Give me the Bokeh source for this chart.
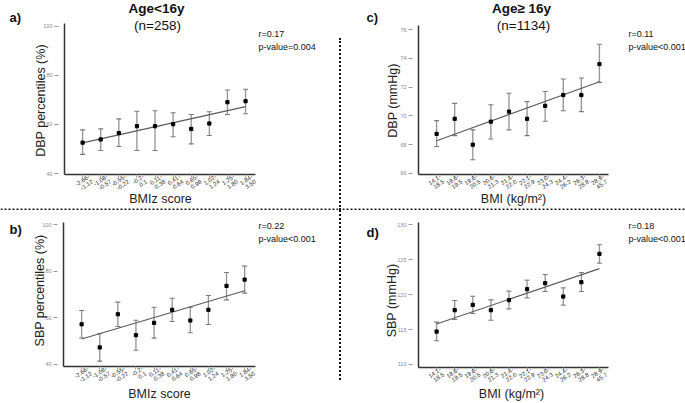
import math
from bokeh.plotting import figure
from bokeh.models import (ColumnDataSource, Whisker, TeeHead, FixedTicker, Label, Div, Span, Range1d,
                          LinearAxis)
from bokeh.layouts import row, column
from bokeh.embed import file_html
from bokeh.resources import INLINE

# ---------------- data ----------------
groups = [1, 2, 3, 4, 5, 6, 7, 8, 9, 10]
bmiz_labels = ["-2.66-\n-1.12", "-1.08-\n-0.57", "-0.55-\n-0.22", "-0.2-\n0.1", "0.11-\n0.38",
               "0.41-\n0.64", "0.65-\n0.98", "1.02-\n1.24", "1.25-\n1.80", "1.84-\n3.50"]
bmi_labels = ["14.1-\n18.5", "18.6-\n19.5", "19.6-\n20.5", "20.6-\n21.3", "21.4-\n22.0",
              "22.1-\n22.9", "23.0-\n24.3", "24.4-\n26.2", "26.3-\n28.8", "28.9-\n45.7"]

a_mean = [52.6, 53.9, 56.5, 59.3, 59.3, 60.1, 58.2, 60.4, 69.1, 69.5]
a_lo = [47.8, 49.4, 51.0, 49.4, 49.4, 55.0, 52.1, 55.5, 64.1, 64.4]
a_hi = [57.8, 58.2, 62.3, 65.4, 65.6, 64.8, 64.1, 65.2, 74.1, 74.4]
a_reg = [52.5, 67.3]

b_mean = [57.2, 47.2, 61.5, 52.5, 57.8, 63.4, 58.8, 63.4, 73.7, 76.4]
b_lo = [51.3, 41.3, 56.2, 46.0, 51.2, 58.4, 53.5, 57.1, 67.7, 70.6]
b_hi = [63.1, 53.1, 66.7, 58.9, 64.5, 68.4, 64.5, 69.6, 79.5, 82.2]
b_reg = [50.8, 71.6]

c_mean = [68.75, 69.8, 68.0, 69.6, 70.3, 69.8, 70.7, 71.45, 71.45, 73.6]
c_lo = [67.87, 68.63, 66.95, 68.4, 69.03, 68.63, 69.63, 70.36, 70.3, 72.33]
c_hi = [69.67, 70.87, 69.03, 70.78, 71.57, 70.99, 71.7, 72.56, 72.63, 74.98]
c_reg = [68.28, 72.37]

d_mean = [114.7, 117.76, 118.52, 117.76, 119.19, 120.76, 121.62, 119.71, 121.76, 125.81]
d_lo = [113.4, 116.43, 117.29, 116.33, 117.95, 119.52, 120.43, 118.48, 120.43, 124.48]
d_hi = [116.05, 119.14, 119.76, 119.24, 120.48, 122.05, 122.86, 120.95, 123.14, 127.1]
d_reg = [115.8, 123.7]

pct_ticks = [40, 60, 80, 100]
c_ticks = [66, 68, 70, 72, 74, 76]
d_ticks = [110, 115, 120, 125, 130]

FONT = "Liberation Sans"


class Panel:
    """One quadrant. The frame fills the whole canvas; the axes sit at fixed locations."""

    def __init__(self, ox, oy, W, H, box, xdom, ydom, yticks, xlabels, label_shift,
                 mean, lo, hi, reg):
        self.ox, self.oy, self.W, self.H = ox, oy, W, H
        L, R, T, B = box            # where the axes' corner / ends lie in the picture
        x0, x1 = xdom
        y0, y1 = ydom
        kx = (x1 - x0) / (R - L)
        ky = (y1 - y0) / (B - T)
        xr = Range1d(x0 - (L - ox) * kx, x1 + (ox + W - R) * kx)
        yr = Range1d(y0 - (oy + H - B) * ky, y1 + (T - oy) * ky)
        p = figure(width=W, height=H, output_backend="svg", toolbar_location=None,
                   x_range=xr, y_range=yr, title=None,
                   min_border_left=0, min_border_right=0, min_border_top=0, min_border_bottom=0)
        p.outline_line_color = None
        p.grid.visible = False
        p.background_fill_color = "white"
        p.border_fill_color = "white"

        src = ColumnDataSource(dict(x=groups, m=mean, lo=lo, hi=hi))
        w = Whisker(source=src, base="x", upper="hi", lower="lo", line_color="#939393", line_width=1.3,
                    upper_head=TeeHead(size=5, line_color="#7a7a7a", line_width=1.1),
                    lower_head=TeeHead(size=5, line_color="#7a7a7a", line_width=1.1))
        p.add_layout(w)
        p.line([groups[0], groups[-1]], reg, line_color="#5a5a5a", line_width=1.1)
        p.scatter("x", "m", source=src, marker="square", size=3.2, color="black")

        # x axis: line and small tick marks at the groups
        xa = p.xaxis[0]
        xa.fixed_location = y0
        xa.bounds = (x0, x1)
        xa.ticker = FixedTicker(ticks=groups)
        xa.major_label_overrides = {g: "" for g in groups}
        xa.major_tick_line_color = "#a0a0a0"
        xa.major_tick_out = 3
        xa.major_tick_in = 0
        xa.minor_tick_line_color = None
        xa.minor_tick_out = 0
        xa.axis_line_color = "#333"
        xa.axis_line_width = 1.5

        # x tick labels (slightly to the right of each tick, as in the original)
        lab_ticks = [g + label_shift for g in groups]
        xl = LinearAxis(fixed_location=y0, bounds=(x0, x1), ticker=FixedTicker(ticks=lab_ticks),
                        major_label_overrides={t: l for t, l in zip(lab_ticks, xlabels)},
                        major_label_orientation=0.6, major_label_text_font_size="6px",
                        major_label_text_font=FONT, major_label_text_color="#333",
                        major_label_text_line_height=1.0, major_label_standoff=4,
                        major_tick_line_color=None, major_tick_out=0, major_tick_in=0,
                        minor_tick_line_color=None, minor_tick_out=0, axis_line_color=None)
        p.add_layout(xl, "below")

        ya = p.yaxis[0]
        ya.fixed_location = x0
        ya.bounds = (y0, y1)
        ya.ticker = FixedTicker(ticks=yticks)
        ya.major_label_text_font_size = "5.5px"
        ya.major_label_text_font = FONT
        ya.major_label_text_color = "#8a8a8a"
        ya.major_tick_line_color = "#9a9a9a"
        ya.major_tick_out = 10
        ya.major_tick_in = -6
        ya.major_label_standoff = 2
        ya.minor_tick_line_color = None
        ya.minor_tick_out = 0
        ya.axis_line_color = "#333"
        ya.axis_line_width = 1.5
        self.p = p

    def text(self, X, Y, text, size, bold=False, align="left", color="#111", angle=0.0):
        # X, Y: picture position; screen units measured from the canvas' bottom-left
        self.p.add_layout(Label(x=X - self.ox, y=self.oy + self.H - Y,
                                x_units="screen", y_units="screen", angle=angle,
                                text=text, text_font=FONT, text_font_size=size,
                                text_font_style="bold" if bold else "normal",
                                text_align=align, text_baseline="middle", text_color=color))

    def xtitle(self, X, Y, text):
        self.text(X, Y, text, "12.5px", align="center", color="#222")

    def ytitle(self, X, Y, text):
        self.text(X, Y, text, "12.5px", align="center", color="#222", angle=math.pi / 2)

    def hline_bottom(self):
        self.p.add_layout(Span(location=1, location_units="screen", dimension="width",
                               line_color="#111", line_width=2, line_dash="2 2"))


# panel a (top-left)
A = Panel(0, 0, 338, 210, (64, 255, 23, 174), (0, 10.55), (39.6, 101.2), pct_ticks, bmiz_labels, 0.45,
          a_mean, a_lo, a_hi, a_reg)
A.text(9, 17, "a)", "13px", bold=True)
A.text(156, 8, "Age<16y", "13.5px", bold=True, align="center")
A.text(157, 25, "(n=258)", "13.5px", align="center")
A.text(258, 33, "r=0.17", "9px")
A.text(258, 46, "p-value=0.004", "9px")
A.ytitle(40, 100, "DBP percentiles (%)")
A.xtitle(160, 198, "BMIz score")
A.hline_bottom()

# panel c (top-right)
C = Panel(342, 0, 343, 210, (418, 608, 25, 174), (0, 10.5), (65.93, 76.28), c_ticks, bmi_labels, 0.3,
          c_mean, c_lo, c_hi, c_reg)
C.text(366, 17, "c)", "13px", bold=True)
C.text(521, 8, "Age≥ 16y", "13.5px", bold=True, align="center")
C.text(523, 25, "(n=1134)", "13.5px", align="center")
C.text(628, 33, "r=0.11", "9px")
C.text(628, 46, "p-value<0.001", "9px")
C.ytitle(392, 100, "DBP (mmHg)")
C.xtitle(513, 198, "BMI (kg/m²)")
C.hline_bottom()

# panel b (bottom-left)
B = Panel(0, 210, 338, 193, (63, 255, 222, 366), (0, 10.6), (39.0, 101.0), pct_ticks, bmiz_labels, 0.45,
          b_mean, b_lo, b_hi, b_reg)
B.text(9, 229, "b)", "13px", bold=True)
B.text(258, 225, "r=0.22", "9px")
B.text(258, 238, "p-value<0.001", "9px")
B.ytitle(39, 290, "SBP percentiles (%)")
B.xtitle(159, 393, "BMIz score")

# panel d (bottom-right)
D = Panel(342, 210, 343, 193, (418, 608, 222, 367), (0, 10.5), (109.57, 130.29), d_ticks, bmi_labels, 0.3,
          d_mean, d_lo, d_hi, d_reg)
D.text(366, 232, "d)", "13px", bold=True)
D.text(628, 225, "r=0.18", "9px")
D.text(628, 238, "p-value<0.001", "9px")
D.ytitle(391, 300, "SBP (mmHg)")
D.xtitle(511, 393, "BMI (kg/m²)")

# vertical dotted separators
vsep_top = Div(width=4, height=210, margin=0,
               text='<div style="margin-top:38px;margin-left:1px;height:172px;'
                    'border-left:2px dotted #111"></div>')
vsep_bot = Div(width=4, height=193, margin=0,
               text='<div style="margin-left:1px;height:170px;border-left:2px dotted #111"></div>')

layout = column(row(A.p, vsep_top, C.p, spacing=0), row(B.p, vsep_bot, D.p, spacing=0), spacing=0)

open("out.html", "w").write(file_html(layout, INLINE))
